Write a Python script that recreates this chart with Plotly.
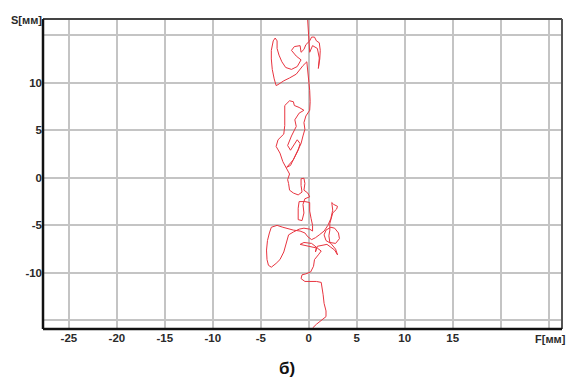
import plotly.graph_objects as go

# Stabilogram trace (F = frontal, S = sagittal), mm
F = [0.3, 0.4, 0.8, 1.3, 1.8, 1.8, 1.6, 1.5, 1.4, 1.3, 0.8, 0.2, -0.4, -0.8, -0.7, -0.3, 0.2, 0.5, 0.6, 1.0, 1.3,
     0.9, 0.4, -0.3, -0.9, -0.5, 0.3, 0.8, 0.7, 0.9, 1.4, 1.9, 2.3, 2.7, 3.0, 2.8, 2.3, 1.8, 1.6, 1.8, 2.3, 2.7, 3.1,
     3.2, 2.8, 2.2, 2.1, 2.2, 2.2, 2.4, 2.5, 2.9, 3.0, 2.6, 2.4, 2.5, 2.3, 2.0, 1.6, 1.1, 0.7, 0.3, -0.1, -0.4,
     -0.9, -1.6, -2.1, -2.7, -3.3, -3.9, -4.1, -4.3, -4.4, -4.35, -4.2, -3.9, -3.4, -3.0, -2.6, -2.3, -2.1, -1.6,
     -1.0, -0.5, 0.1, 0.4,
     0.4, 0.25, 0.1, 0.1, -0.4, -1.0, -1.1, -1.1, -0.7, -0.5, -0.6, -0.4, 0.1, -0.1, -0.5, -0.4, -0.5, -0.8, -0.8,
     -0.7, -1.1, -1.6, -2.0, -2.1, -2.2, -2.0, -2.3, -2.7, -3.0, -3.4, -3.2, -2.6, -2.5, -2.5, -2.5, -2.0, -1.6,
     -1.5, -1.0, -0.5, -1.0, -1.45, -1.3, -1.8, -2.2, -1.9, -1.5, -1.2, -0.9, -1.1, -1.6, -2.3, -1.9, -1.3, -0.8,
     -0.6, -0.4, -0.5, -0.3, 0.1, 0.15, 0.1,
     0.0, -0.1, -0.2, -0.6, -1.3, -2.0, -2.6, -3.2, -3.4, -3.6, -3.8, -3.9, -3.9, -3.7, -3.5, -3.3, -3.3, -3.1,
     -2.8, -2.4, -1.8, -1.2, -0.8, -1.3, -1.8, -1.5, -0.9, -0.8, -0.5, -0.3, 0.1, 0.3, 0.6, 0.8, 1.1, 1.2, 1.15,
     1.0, 1.1, 0.9, 0.4, 0.1, 0.0, -0.1, -0.1, -0.15]
S = [-16.3, -15.8, -15.4, -15.0, -14.6, -14.0, -13.2, -12.3, -11.5, -11.0, -10.9, -10.9, -10.9, -10.6, -10.2,
     -10.1, -9.9, -9.3, -8.6, -8.1, -7.7,
     -7.4, -7.3, -7.1, -7.0, -6.8, -6.9, -7.3, -7.8, -7.2, -7.1, -7.0, -7.3, -7.6, -8.1, -7.5, -6.9, -6.6, -6.0,
     -5.5, -5.2, -5.3, -5.8, -6.4, -6.9, -6.8, -6.1, -5.5, -4.8, -4.2, -3.7, -3.3, -3.0, -2.8, -2.6, -3.4, -4.3,
     -5.0, -5.6, -6.0, -6.3, -6.5, -6.2, -5.8,
     -5.6, -5.5, -5.4, -5.2, -5.0, -5.2, -5.8, -6.6, -7.6, -8.6, -9.2, -9.4, -9.0, -8.6, -7.8, -6.8, -6.0, -5.7,
     -5.4, -5.3, -5.4, -5.6,
     -5.0, -4.3, -3.5, -2.6, -2.5, -2.5, -3.2, -4.4, -4.5, -3.7, -2.8, -2.2, -2.0, -1.6, -1.3, -0.6, -0.05, -0.1,
     -0.8, -1.5, -1.8, -1.6, -1.3, -0.6, -0.2, 0.4, 1.0, 1.7, 2.6, 3.3, 4.0, 4.6, 5.5, 6.5, 7.6, 8.1, 8.0,
     7.6, 7.4, 7.1, 6.8, 6.1, 5.4, 4.4, 3.4, 2.9, 3.5, 4.0, 3.6, 2.9, 1.9, 1.1, 1.3, 2.6, 3.6,
     4.4, 5.1, 5.8, 6.5, 7.1, 8.0, 9.2,
     10.2, 11.2, 12.2, 11.8, 10.9, 10.5, 10.2, 9.8, 9.7, 10.4, 11.4, 12.5, 13.4, 14.4, 14.7, 14.4, 13.6, 12.9,
     12.2, 11.6, 11.4, 11.7, 12.4, 12.8, 13.4, 13.8, 13.9, 13.2, 13.5, 14.0, 14.4, 14.8, 14.8, 14.4, 14.2, 13.4,
     12.5, 11.5, 12.6, 13.6, 13.9, 13.2, 14.5, 15.5, 16.5, 17.2]

x_ticks = [-25, -20, -15, -10, -5, 0, 5, 10, 15, 20, 25]
x_labels = ["-25", "-20", "-15", "-10", "-5", "0", "5", "10", "15", "", ""]
y_ticks = [-15, -10, -5, 0, 5, 10, 15]
y_labels = ["", "-10", "-5", "0", "5", "10", ""]

FONT = "Liberation Sans"
TXT = "#2a2a2a"

fig = go.Figure()
fig.add_trace(go.Scatter(x=F, y=S, mode="lines",
                         line=dict(color="#e8343f", width=1), hoverinfo="skip"))

fig.update_layout(
    width=570, height=380,
    margin=dict(l=43, r=8, t=19, b=51),
    paper_bgcolor="white", plot_bgcolor="white",
    showlegend=False,
    font=dict(family=FONT, size=11, color=TXT),
    xaxis=dict(range=[-27.7, 26.4], tickvals=x_ticks, ticktext=x_labels,
               showgrid=True, gridcolor="#c4c4c4", gridwidth=1.5,
               zeroline=False, showline=False, ticks="",
               tickfont=dict(family=FONT, size=11.5, color=TXT, weight="bold")),
    yaxis=dict(range=[-15.9, 16.7], tickvals=y_ticks, ticktext=y_labels,
               showgrid=True, gridcolor="#c4c4c4", gridwidth=1.5,
               zeroline=False, showline=False, ticks="",
               tickfont=dict(family=FONT, size=11.5, color=TXT, weight="bold")),
)

# frame
fig.add_shape(type="line", xref="paper", yref="paper", x0=0, x1=1, y0=1, y1=1,
              line=dict(color="#444444", width=2))
fig.add_shape(type="line", xref="paper", yref="paper", x0=1, x1=1, y0=0, y1=1,
              line=dict(color="#555555", width=2))
fig.add_shape(type="line", xref="paper", yref="paper", x0=0, x1=0, y0=0, y1=1,
              line=dict(color="#111111", width=2.5))
fig.add_shape(type="line", xref="paper", yref="paper", x0=0, x1=1, y0=0, y1=0,
              line=dict(color="#111111", width=2.5))

fig.add_annotation(text="F[мм]", xref="paper", yref="paper", x=0.977, y=-0.032,
                   xanchor="center", yanchor="middle", showarrow=False,
                   font=dict(family=FONT, size=11, color=TXT, weight="bold"))
fig.add_annotation(text="S[мм]", xref="paper", yref="paper", x=-0.031, y=0.997,
                   xanchor="center", yanchor="middle", showarrow=False,
                   font=dict(family=FONT, size=11, color=TXT, weight="bold"))
fig.add_annotation(text="б)", xref="paper", yref="paper", x=0.47, y=-0.129,
                   xanchor="center", yanchor="middle", showarrow=False,
                   font=dict(family=FONT, size=17, color="#111111", weight="bold"))

fig.write_html("out.html", config={"displayModeBar": False},
               post_script="document.body.style.margin='0';document.body.style.overflow='hidden';")
